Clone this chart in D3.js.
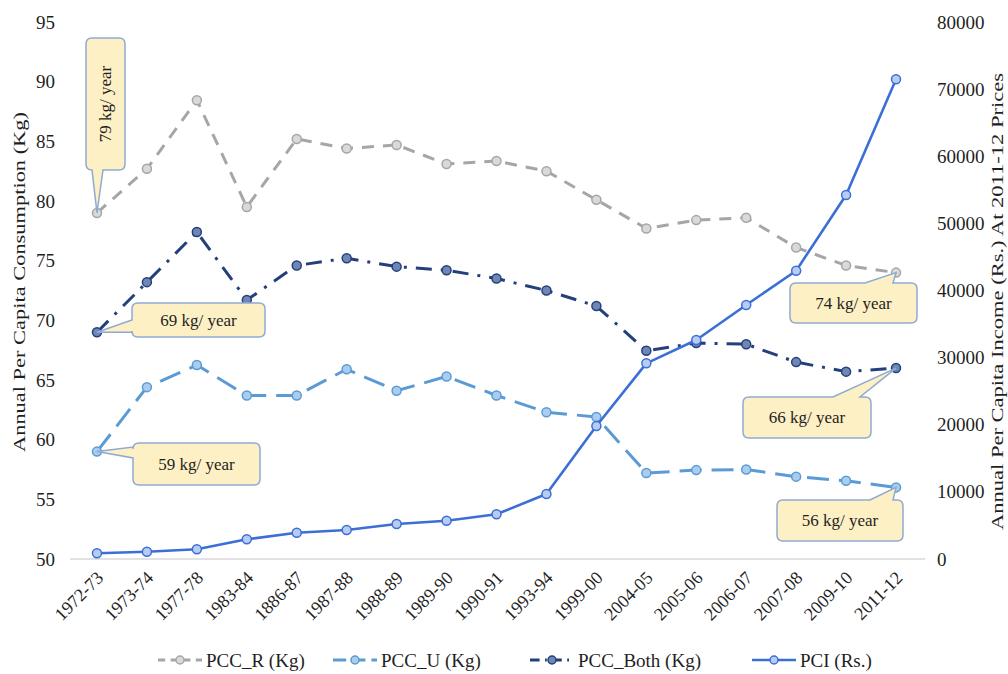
<!DOCTYPE html>
<html>
<head>
<meta charset="utf-8">
<script src="https://cdn.jsdelivr.net/npm/d3@7"></script>
<style>
  body { margin: 0; background: #fff; }
  svg { display: block; }
  text { font-family: "Liberation Serif", "Times New Roman", serif; fill: #1f1f1f; }
</style>
</head>
<body>
<svg id="chart" width="1008" height="674"></svg>
<script>
// Survey rounds (x axis)
const categories = ["1972-73", "1973-74", "1977-78", "1983-84", "1886-87", "1987-88", "1988-89",
  "1989-90", "1990-91", "1993-94", "1999-00", "2004-05", "2005-06", "2006-07", "2007-08",
  "2009-10", "2011-12"];

// Annual per capita cereal consumption, kg (left axis)
const pccR    = [79, 82.7, 88.45, 79.5, 85.2, 84.4, 84.7, 83.1, 83.35, 82.5, 80.1, 77.7, 78.4, 78.6, 76.1, 74.6, 74];
const pccU    = [59, 64.4, 66.25, 63.7, 63.7, 65.9, 64.1, 65.3, 63.7, 62.3, 61.9, 57.2, 57.45, 57.5, 56.9, 56.55, 56];
const pccBoth = [69, 73.2, 77.4, 71.7, 74.6, 75.2, 74.5, 74.2, 73.5, 72.5, 71.2, 67.45, 68.1, 68.0, 66.5, 65.7, 66];

// Annual per capita income, Rs. at 2011-12 prices (right axis)
const pci = [850, 1090, 1450, 2930, 3920, 4320, 5210, 5700, 6660, 9680, 19810, 29150, 32630, 37840, 42950, 54230, 71460];

const leftTicks  = [50, 55, 60, 65, 70, 75, 80, 85, 90, 95];
const rightTicks = [0, 10000, 20000, 30000, 40000, 50000, 60000, 70000, 80000];
const seriesNames = ["PCC_R (Kg)", "PCC_U (Kg)", "PCC_Both (Kg)", "PCI (Rs.)"];

const svg = d3.select("#chart");

const x  = d3.scalePoint().domain(categories).range([72, 921]).padding(0.5);
const yL = d3.scaleLinear().domain([50, 95]).range([559, 22]);
const yR = d3.scaleLinear().domain([0, 80000]).range([559, 22]);

// baseline
svg.append("line")
  .attr("x1", 70).attr("x2", 925).attr("y1", yL(50)).attr("y2", yL(50))
  .attr("stroke", "#d9d9d9").attr("stroke-width", 1.5);

// left axis
const gL = svg.append("g").attr("transform", "translate(57,0)")
  .call(d3.axisLeft(yL).tickValues(leftTicks).tickSize(0).tickPadding(2).tickFormat(d3.format("d")));
gL.select(".domain").remove();
gL.selectAll("text").attr("font-size", 19).attr("font-family", null).style("fill", "#1f1f1f");

// right axis
const gR = svg.append("g").attr("transform", "translate(933,0)")
  .call(d3.axisRight(yR).tickValues(rightTicks).tickSize(0).tickPadding(4).tickFormat(d3.format("d")));
gR.select(".domain").remove();
gR.selectAll("text").attr("font-size", 19).attr("font-family", null).style("fill", "#1f1f1f");

// x axis, rotated labels
const gX = svg.append("g").attr("transform", `translate(0,${yL(50)})`)
  .call(d3.axisBottom(x).tickSize(0).tickPadding(0));
gX.select(".domain").remove();
gX.selectAll("text")
  .attr("font-size", 18).attr("font-family", null).style("fill", "#1f1f1f")
  .attr("text-anchor", "end")
  .attr("x", 0).attr("y", 0).attr("dy", null)
  .attr("transform", "translate(7,20) rotate(-45)");

// axis titles
svg.append("text")
  .attr("transform", `translate(25,${(452 + 112) / 2}) rotate(-90)`)
  .attr("text-anchor", "middle").attr("font-size", 17)
  .attr("textLength", 340).attr("lengthAdjust", "spacingAndGlyphs")
  .text("Annual Per Capita Consumption (Kg)");

svg.append("text")
  .attr("transform", `translate(1003,${(530 + 73) / 2}) rotate(-90)`)
  .attr("text-anchor", "middle").attr("font-size", 17)
  .attr("textLength", 457).attr("lengthAdjust", "spacingAndGlyphs")
  .text("Annual Per Capita Income (Rs.) At 2011-12 Prices");

// series
const series = [
  { name: seriesNames[0], values: pccR,    y: yL, stroke: "#a6a6a6", width: 3,   dash: "12,9",     fill: "#d9d9d9" },
  { name: seriesNames[1], values: pccU,    y: yL, stroke: "#5b9bd5", width: 3,   dash: "22,10",    fill: "#a9cdee" },
  { name: seriesNames[2], values: pccBoth, y: yL, stroke: "#233f7c", width: 3,   dash: "16,9,3,9", fill: "#6f87b4" },
  { name: seriesNames[3], values: pci,     y: yR, stroke: "#3b6fd6", width: 2.6, dash: null,       fill: "#b8cbf2" }
];

series.forEach(s => {
  const line = d3.line().x((d, i) => x(categories[i])).y(d => s.y(d));
  svg.append("path")
    .datum(s.values)
    .attr("d", line)
    .attr("fill", "none")
    .attr("stroke", s.stroke)
    .attr("stroke-width", s.width)
    .attr("stroke-dasharray", s.dash)
    .attr("stroke-linejoin", "round");
  svg.append("g").selectAll("circle")
    .data(s.values)
    .join("circle")
    .attr("cx", (d, i) => x(categories[i]))
    .attr("cy", d => s.y(d))
    .attr("r", 4.5)
    .attr("fill", s.fill)
    .attr("stroke", s.stroke)
    .attr("stroke-width", 1.5);
});

// callouts
function calloutPath(b, side, a1, a2, tx, ty) {
  const r = 6, x0 = b.x, y0 = b.y, x1 = b.x + b.w, y1 = b.y + b.h;
  let p = `M${x0 + r},${y0}`;
  if (side === "top") p += `L${a1},${y0}L${tx},${ty}L${a2},${y0}`;
  p += `L${x1 - r},${y0}Q${x1},${y0} ${x1},${y0 + r}L${x1},${y1 - r}Q${x1},${y1} ${x1 - r},${y1}`;
  if (side === "bottom") p += `L${a2},${y1}L${tx},${ty}L${a1},${y1}`;
  p += `L${x0 + r},${y1}Q${x0},${y1} ${x0},${y1 - r}`;
  if (side === "left") p += `L${x0},${a2}L${tx},${ty}L${x0},${a1}`;
  p += `L${x0},${y0 + r}Q${x0},${y0} ${x0 + r},${y0}Z`;
  return p;
}

const callouts = [
  { values: pccR,    y: yL, i: 0,  box: { x: 86,  y: 38,  w: 39,  h: 132 }, side: "bottom", a: [92, 103], vertical: true },
  { values: pccBoth, y: yL, i: 0,  box: { x: 132, y: 303, w: 133, h: 34 },  side: "left",   a: [320, 332] },
  { values: pccU,    y: yL, i: 0,  box: { x: 133, y: 443, w: 127, h: 42 },  side: "left",   a: [447, 458] },
  { values: pccR,    y: yL, i: 16, box: { x: 790, y: 283, w: 127, h: 40 },  side: "top",    a: [865, 893] },
  { values: pccBoth, y: yL, i: 16, box: { x: 743, y: 397, w: 128, h: 41 },  side: "top",    a: [833, 860] },
  { values: pccU,    y: yL, i: 16, box: { x: 777, y: 500, w: 126, h: 41 },  side: "top",    a: [870, 893] }
];

const gC = svg.append("g");
callouts.forEach(c => {
  const v = c.values[c.i];
  const tx = x(categories[c.i]), ty = c.y(v);
  gC.append("path")
    .attr("d", calloutPath(c.box, c.side, c.a[0], c.a[1], tx, ty))
    .attr("fill", "#fdf0c5")
    .attr("stroke", "#8eaad3")
    .attr("stroke-width", 1.5);
  const cx = c.box.x + c.box.w / 2, cy = c.box.y + c.box.h / 2;
  gC.append("text")
    .attr("transform", c.vertical ? `translate(${cx},${cy}) rotate(-90)` : `translate(${cx},${cy})`)
    .attr("text-anchor", "middle")
    .attr("dy", "0.35em")
    .attr("font-size", 17)
    .text(`${d3.format("d")(v)} kg/ year`);
});

// legend
const legendX = [158, 333, 530, 752];
const lg = svg.append("g").attr("transform", "translate(0,660)");
series.forEach((s, k) => {
  const g = lg.append("g").attr("transform", `translate(${legendX[k]},0)`);
  g.append("line")
    .attr("x1", 0).attr("x2", 44).attr("y1", 0).attr("y2", 0)
    .attr("stroke", s.stroke).attr("stroke-width", s.width)
    .attr("stroke-dasharray", s.dash ? s.dash.split(",").map(n => n * 0.6).join(",") : null);
  g.append("circle").attr("cx", 22).attr("cy", 0).attr("r", 4)
    .attr("fill", s.fill).attr("stroke", s.stroke).attr("stroke-width", 1.5);
  g.append("text").attr("x", 48).attr("dy", "0.35em").attr("font-size", 19).text(s.name);
});
</script>
</body>
</html>
